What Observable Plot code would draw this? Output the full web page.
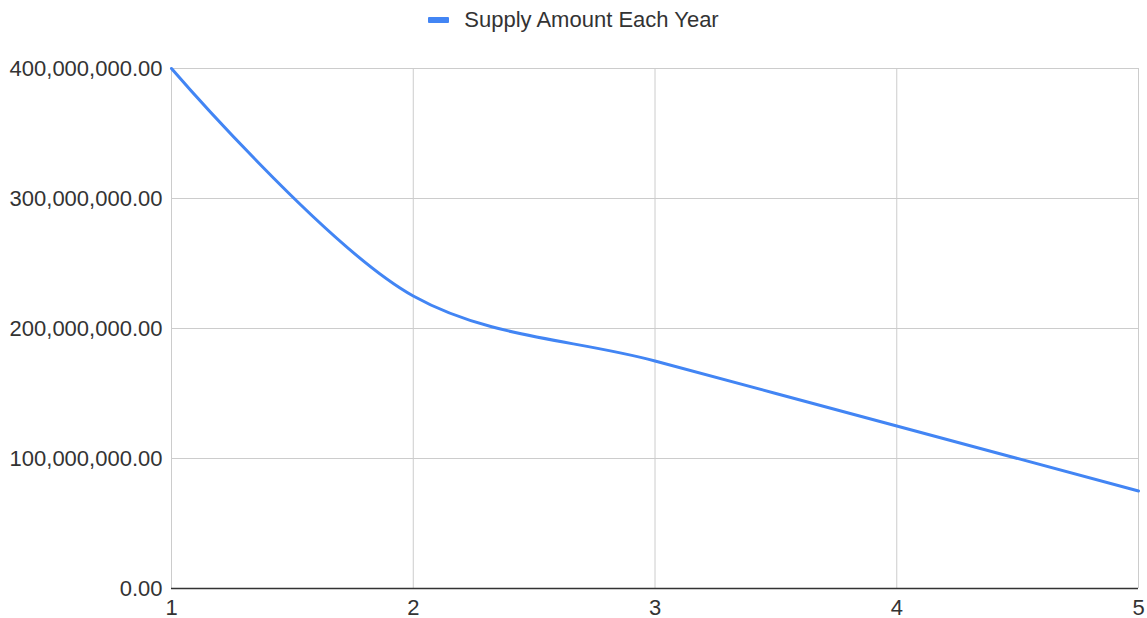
<!DOCTYPE html>
<html>
<head>
<meta charset="utf-8">
<script src="https://cdn.jsdelivr.net/npm/d3@7"></script>
<script src="https://cdn.jsdelivr.net/npm/@observablehq/plot@0.6"></script>
<style>
  html, body { margin: 0; padding: 0; background: #fff; }
  body { width: 1147px; font-family: "Liberation Sans", Arial, sans-serif; }
  #legend { height: 40px; display: flex; align-items: center; justify-content: center; font-size: 22px; color: #333; padding-left: 0px; }
  #legend .sw { display: inline-block; width: 21px; height: 6px; background: #4285F4; margin-right: 15px; border-radius: 1px; }
  svg { display: block; }
</style>
</head>
<body>
<div id="legend"><span class="sw"></span><span>Supply Amount Each Year</span></div>
<div id="chart"></div>
<script>
const years = [1, 2, 3, 4, 5];
const supply = [400000000, 225000000, 175000000, 125000000, 75000000];
const yTicks = [0, 100000000, 200000000, 300000000, 400000000];
const seriesName = "Supply Amount Each Year";

const data = years.map((y, i) => ({year: y, value: supply[i], series: seriesName}));
const fmt = d3.format(",.2f");

const chart = Plot.plot({
  width: 1147,
  height: 578,
  marginTop: 28,
  marginBottom: 30,
  marginLeft: 171,
  marginRight: 9,
  style: {fontFamily: "'Liberation Sans', Arial, sans-serif", fontSize: "22px", color: "#333", background: "#fff", overflow: "visible"},
  x: {domain: [1, 5], ticks: years, tickFormat: d => String(d), tickSize: 0, tickPadding: 10, label: null},
  y: {domain: [0, 400000000], ticks: yTicks, tickFormat: d => fmt(d), tickSize: 0, tickPadding: 9, label: null},
  marks: [
    Plot.gridX(years, {stroke: "#cccccc", strokeOpacity: 1, strokeWidth: 1}),
    Plot.gridY(yTicks, {stroke: "#cccccc", strokeOpacity: 1, strokeWidth: 1}),
    Plot.axisX({ticks: years, tickFormat: d => String(d), tickSize: 0, tickPadding: 11, fill: "#333"}),
    Plot.axisY({ticks: yTicks, tickFormat: d => fmt(d), tickSize: 0, tickPadding: 9, fill: "#333"}),
    Plot.ruleY([0], {stroke: "#333", strokeWidth: 1.5}),
    Plot.line(data, {x: "year", y: "value", stroke: "#4285F4", strokeWidth: 3, curve: "catmull-rom"})
  ]
});
document.getElementById("chart").appendChild(chart);
</script>
</body>
</html>
